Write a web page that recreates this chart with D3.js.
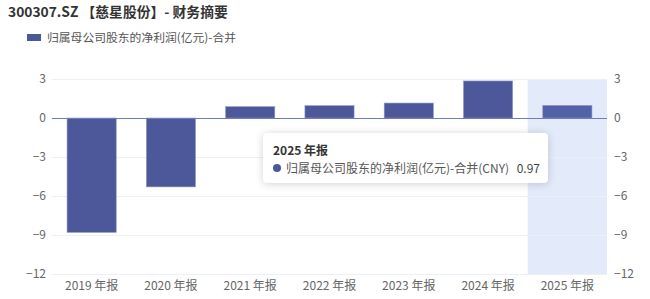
<!DOCTYPE html>
<html>
<head>
<meta charset="utf-8">
<script src="https://cdn.jsdelivr.net/npm/d3@7"></script>
<style>
  body { margin: 0; background: #fff; font-family: "Noto Sans CJK SC", "Noto Sans", sans-serif; }
  #chart { position: relative; width: 650px; height: 299px; }
  .tip {
    position: absolute; background: #fff; border-radius: 4px;
    box-shadow: 0 1px 8px rgba(0,0,0,0.18); color: #333; font-size: 12px;
  }
</style>
</head>
<body>
<div id="chart"></div>
<script>
const categories = ["2019 年报", "2020 年报", "2021 年报", "2022 年报", "2023 年报", "2024 年报", "2025 年报"];
const netProfit = [-8.8, -5.3, 0.87, 0.95, 1.15, 2.85, 0.97];
const yTicks = [3, 0, -3, -6, -9, -12];
const seriesName = "归属母公司股东的净利润(亿元)-合并";
const hoverIndex = 6;

const width = 650, height = 299;
const margin = { top: 79, right: 43, bottom: 25, left: 52 };

const svg = d3.select("#chart").append("svg")
  .attr("width", width).attr("height", height);

const x = d3.scaleBand()
  .domain(categories)
  .range([margin.left, width - margin.right])
  .paddingInner(0.38).paddingOuter(0.19);

const band = d3.scaleBand()
  .domain(categories)
  .range([margin.left, width - margin.right]);

const y = d3.scaleLinear()
  .domain([-12, 3])
  .range([height - margin.bottom, margin.top]);

// title and legend
svg.append("text").attr("x", 8).attr("y", 17)
  .attr("font-size", 13.8).attr("font-weight", "bold").attr("fill", "#333")
  .text("300307.SZ 【慈星股份】- 财务摘要");
svg.append("rect").attr("x", 27).attr("y", 34).attr("width", 14).attr("height", 7)
  .attr("fill", "#4c5899");
svg.append("text").attr("x", 47).attr("y", 42)
  .attr("font-size", 11.8).attr("fill", "#555").text(seriesName);

// hover band
svg.append("rect")
  .attr("x", band(categories[hoverIndex])).attr("y", y(3))
  .attr("width", band.bandwidth()).attr("height", y(-12) - y(3))
  .attr("fill", "#e3ebfb");

// gridlines
svg.append("g").selectAll("line").data(yTicks.filter(d => d !== 0)).join("line")
  .attr("x1", margin.left).attr("x2", width - margin.right)
  .attr("y1", d => y(d) + 0.5).attr("y2", d => y(d) + 0.5)
  .attr("stroke", "#eceff5");

// axes labels
const leftAxis = d3.axisLeft(y).tickValues(yTicks).tickSize(0).tickPadding(6);
svg.append("g").attr("transform", `translate(${margin.left},0)`).call(leftAxis)
  .call(g => g.select(".domain").remove())
  .selectAll("text").attr("fill", "#666").attr("font-size", 12)
  .attr("font-family", "Noto Sans CJK SC, Noto Sans, sans-serif");

const rightAxis = d3.axisRight(y).tickValues(yTicks).tickSize(0).tickPadding(7);
svg.append("g").attr("transform", `translate(${width - margin.right},0)`).call(rightAxis)
  .call(g => g.select(".domain").remove())
  .selectAll("text").attr("fill", "#666").attr("font-size", 12)
  .attr("font-family", "Noto Sans CJK SC, Noto Sans, sans-serif");

const bottomAxis = d3.axisBottom(band).tickSize(0).tickPadding(7);
svg.append("g").attr("transform", `translate(0,${y(-12)})`).call(bottomAxis)
  .call(g => g.select(".domain").remove())
  .selectAll("text").attr("fill", "#666").attr("font-size", 12)
  .attr("font-family", "Noto Sans CJK SC, Noto Sans, sans-serif");

// bars
svg.append("g").selectAll("rect").data(netProfit).join("rect")
  .attr("x", (d, i) => x(categories[i]))
  .attr("width", x.bandwidth())
  .attr("y", d => y(Math.max(0, d)))
  .attr("height", d => Math.abs(y(d) - y(0)))
  .attr("fill", (d, i) => i === hoverIndex ? "#5261a8" : "#4c5899")
  .attr("stroke", "#8f98c6").attr("stroke-width", 0.6);

// zero line
svg.append("line")
  .attr("x1", margin.left).attr("x2", width - margin.right)
  .attr("y1", y(0) + 0.5).attr("y2", y(0) + 0.5)
  .attr("stroke", "#6f7cbc").attr("stroke-width", 1);

// tooltip
const tip = d3.select("#chart").append("div").attr("class", "tip")
  .style("left", "263px").style("top", "133px")
  .style("width", "285px").style("height", "50px");
tip.append("div").style("position", "absolute").style("left", "10px").style("top", "8px")
  .style("font-weight", "bold").style("font-size", "12px").style("color", "#333")
  .text(categories[hoverIndex]);
const row = tip.append("div").style("position", "absolute").style("left", "10px").style("top", "26px")
  .style("width", "267px").style("display", "flex").style("align-items", "center")
  .style("color", "#555").style("font-size", "12px");
row.append("span").style("display", "inline-block").style("width", "8px").style("height", "8px")
  .style("border-radius", "50%").style("background", "#4c5899").style("margin-right", "5px");
row.append("span").text(seriesName + "(CNY)");
row.append("span").style("margin-left", "auto").style("color", "#444").text(netProfit[hoverIndex]);
</script>
</body>
</html>
